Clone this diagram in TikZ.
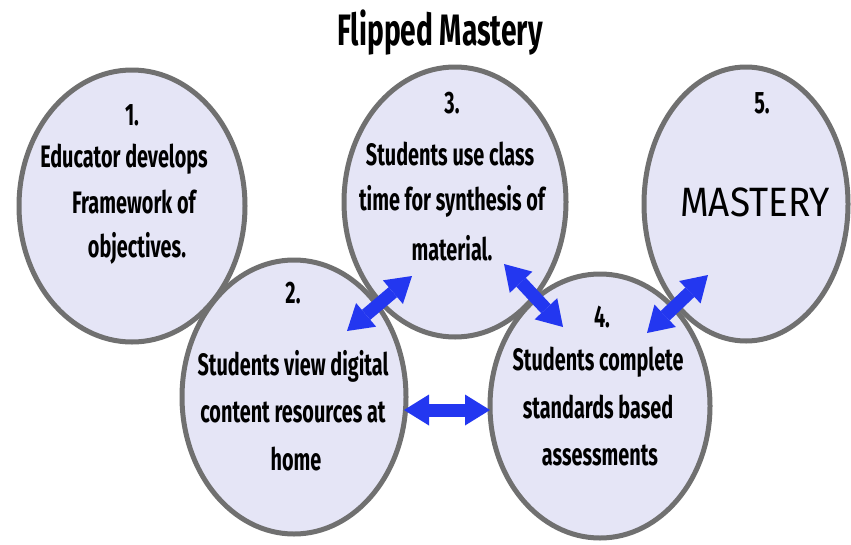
\documentclass[tikz,border=0pt]{standalone}
\usepackage{fontspec}
\setmainfont{Fira Sans}[FakeStretch=0.64]
\newfontfamily\masteryfont{Fira Sans}[FakeStretch=0.9]
\usetikzlibrary{shapes.geometric,arrows.meta}
\definecolor{bubblefill}{RGB}{229,229,246}
\definecolor{rim}{RGB}{112,112,112}
\definecolor{arrowblue}{RGB}{35,55,240}
\begin{document}
\begin{tikzpicture}[x=1pt,y=-1pt,
  bubble/.style={ellipse, fill=bubblefill, inner sep=0pt, outer sep=0pt},
  rimline/.style={draw=rim, line width=5pt},
  txt/.style={font=\fontsize{31}{31}\selectfont\bfseries, text=black, anchor=base, inner sep=0pt},
  blockarrow/.style={draw=arrowblue, line width=13pt,
    {Triangle[length=25pt,width=31pt,line width=0pt]}-{Triangle[length=25pt,width=31pt,line width=0pt]}}]
\useasboundingbox[fill=white] (0,0) rectangle (851,544);
% title
\node[anchor=base, inner sep=0pt, font=\fontsize{44}{44}\selectfont\bfseries] (title) at (440,45) {Flipped Mastery};
% bubbles (fills)
\node[bubble, minimum width=226pt, minimum height=272pt] (c1) at (132,206) {};
\node[bubble, minimum width=224pt, minimum height=274pt] (c2) at (294,397) {};
\node[bubble, minimum width=222pt, minimum height=270pt] (c3) at (455,202) {};
\node[bubble, minimum width=220pt, minimum height=264pt] (c4) at (600,406) {};
\node[bubble, minimum width=204pt, minimum height=274pt] (c5) at (746,204) {};
% outlines on top of all fills
\draw[rimline] (c1.center) ellipse [x radius=113pt, y radius=136pt];
\draw[rimline] (c2.center) ellipse [x radius=112pt, y radius=137pt];
\draw[rimline] (c3.center) ellipse [x radius=111pt, y radius=135pt];
\draw[rimline] (c4.center) ellipse [x radius=110pt, y radius=132pt];
\draw[rimline] (c5.center) ellipse [x radius=102pt, y radius=137pt];
% arrow end points
\coordinate (a23s) at (347,331);
\coordinate (a23e) at (412,276);
\coordinate (a34s) at (504,264);
\coordinate (a34e) at (563,327);
\coordinate (a45s) at (647,333);
\coordinate (a45e) at (708,275);
\coordinate (a24s) at (404,410);
\coordinate (a24e) at (490,410);
\draw[blockarrow] (a23s) -- (a23e);
\draw[blockarrow] (a34s) -- (a34e);
\draw[blockarrow] (a45s) -- (a45e);
\draw[blockarrow] (a24s) -- (a24e);
% texts circle 1
\node[txt] (n1) at (132,125) {1.};
\node[txt] (t1a) at (124,167) {Educator develops};
\node[txt] (t1b) at (134,213) {Framework of};
\node[txt] (t1c) at (137,257) {objectives.};
% circle 2
\node[txt] (n2) at (293,303) {2.};
\node[txt] (t2a) at (293,375) {Students view digital};
\node[txt] (t2b) at (293,422) {content resources at};
\node[txt] (t2c) at (296,470) {home};
% circle 3
\node[txt] (n3) at (452,113) {3.};
\node[txt] (t3a) at (450,165) {Students use class};
\node[txt] (t3b) at (452,210) {time for synthesis of};
\node[txt] (t3c) at (452,260) {material.};
% circle 4
\node[txt] (n4) at (602,327) {4.};
\node[txt] (t4a) at (598,370) {Students complete};
\node[txt] (t4b) at (598,418) {standards based};
\node[txt] (t4c) at (600,465) {assessments};
% circle 5
\node[txt] (n5) at (762,113) {5.};
\node[anchor=base, inner sep=0pt, font=\masteryfont\fontsize{41}{41}\selectfont] (t5) at (755,216) {MASTERY};
\end{tikzpicture}
\end{document}
